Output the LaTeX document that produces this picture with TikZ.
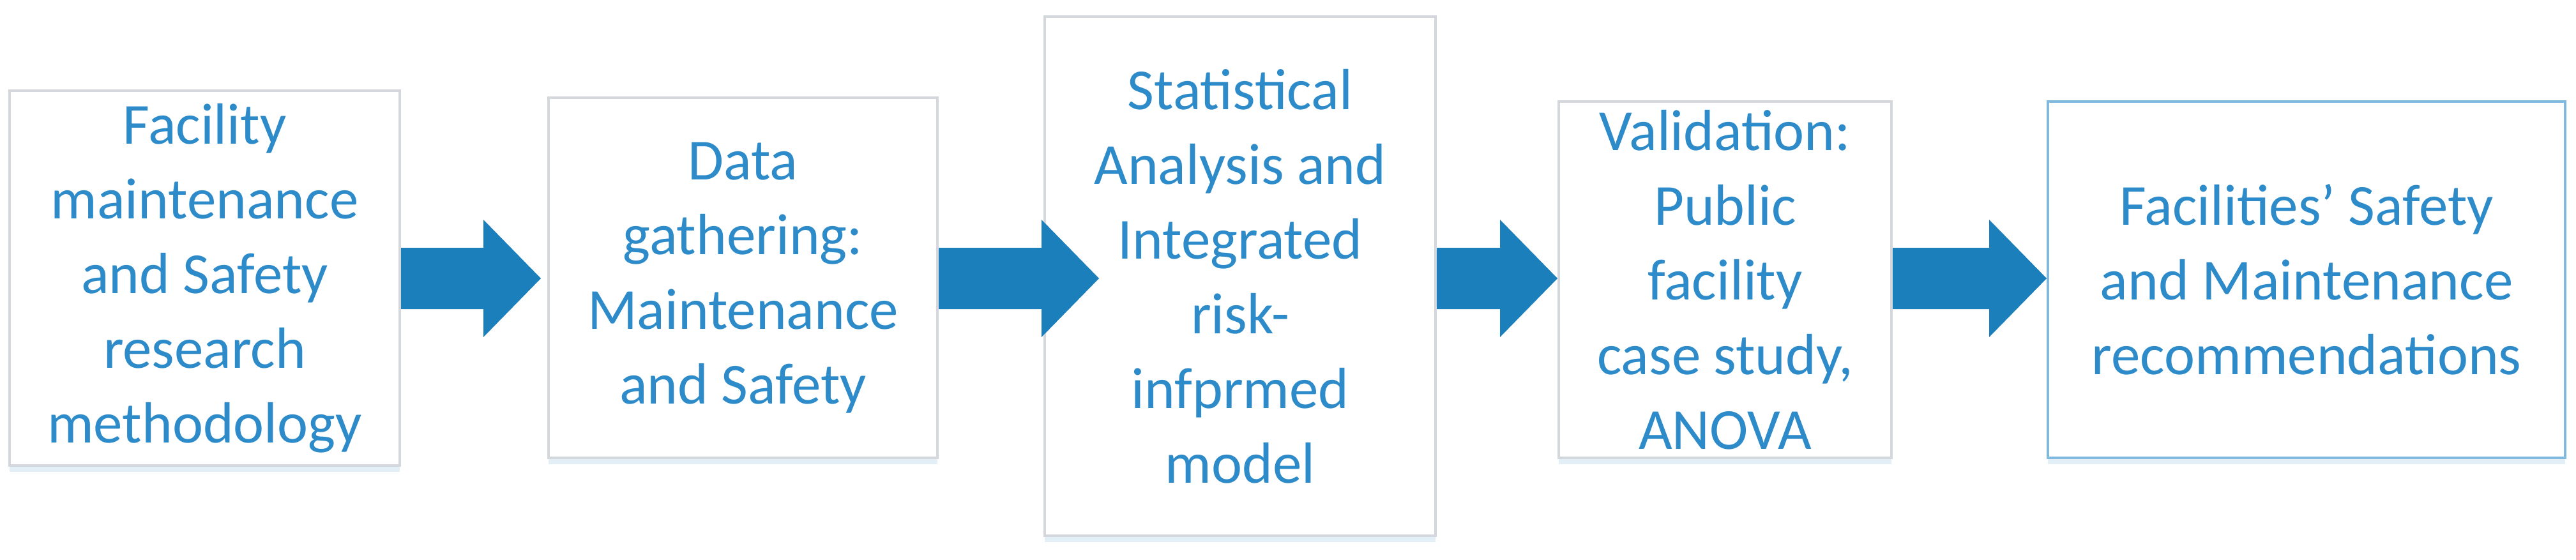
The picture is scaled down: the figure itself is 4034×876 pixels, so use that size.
\documentclass[tikz,border=0pt]{standalone}
\usepackage{fontspec}
\setmainfont{Carlito}
\usetikzlibrary{calc,shadows}
\definecolor{txt}{HTML}{2E8BC9}
\definecolor{arr}{HTML}{1A7FBA}
\definecolor{bord}{HTML}{D4D8DC}
\begin{document}
\begin{tikzpicture}[x=1pt,y=-1pt,
  box/.style={draw=bord,line width=4pt,fill=white,text=txt,align=center,inner sep=0pt,
    font=\fontsize{91}{117}\selectfont,
    drop shadow={shadow xshift=0pt,shadow yshift=-10pt,opacity=0.12,fill=arr}},
  arrw/.style={fill=arr}]
\useasboundingbox (0,0) rectangle (4034,876);
\newcommand{\boxat}[6]{\node[box,minimum width=#4-#2,minimum height=#5-#3] (#1) at ({(#2+#4)/2},{(#3+#5)/2}) {#6};}
\boxat{b1}{15}{142}{626}{729}{Facility\\maintenance\\and Safety\\research\\methodology}
\boxat{b2}{859}{153}{1468}{717}{Data\\gathering:\\Maintenance\\and Safety}
\boxat{b3}{1636}{26}{2248}{839}{Statistical\\Analysis and\\Integrated\\risk-\\infprmed\\model}
\boxat{b4}{2441}{159}{2962}{717}{Validation:\\Public\\facility\\case study,\\ANOVA}
\node[box,draw=txt!60,minimum width=810,minimum height=558] (b5) at (3612,438) {Facilities’ Safety\\and Maintenance\\recommendations};
\newcommand{\bigarrow}[3]{%
  \coordinate (s) at (#1.east|-0,436);
  \coordinate (t) at ($(#2.west|-0,436)+(#3,0)$);
  \fill[arrw] ($(s)+(0,-48)$) -- ($(t)+(-90,-48)$) -- ($(t)+(-90,-92)$) -- (t)
    -- ($(t)+(-90,92)$) -- ($(t)+(-90,48)$) -- ($(s)+(0,48)$) -- cycle;}
\bigarrow{b1}{b2}{-10}
\bigarrow{b2}{b3}{87}
\bigarrow{b3}{b4}{0}
\bigarrow{b4}{b5}{0}
\end{tikzpicture}
\end{document}
